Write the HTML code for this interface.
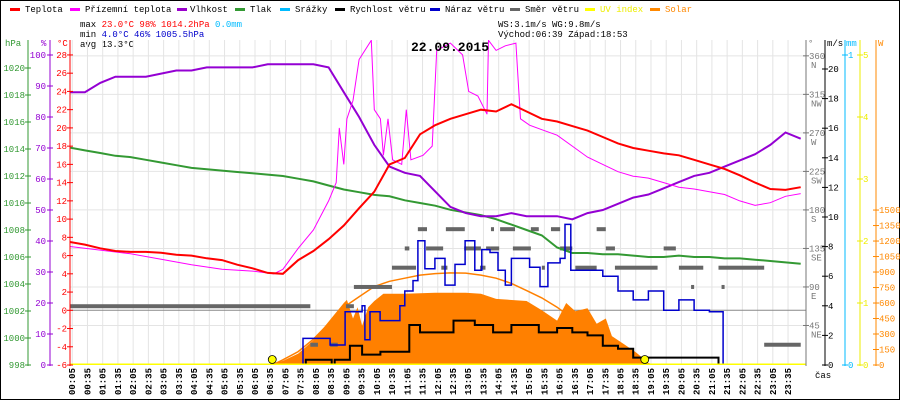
<!DOCTYPE html>
<html><head><meta charset="utf-8"><style>
html,body{margin:0;padding:0;background:#fff}
svg{display:block;font-family:"Liberation Mono",monospace}
</style></head><body>
<svg id="c" width="900" height="400" viewBox="0 0 900 400" xmlns="http://www.w3.org/2000/svg">
<rect x="0.5" y="0.5" width="899" height="399" fill="#fff" stroke="#000"/>
<g font-size="9">
 <g><rect x="10" y="8" width="10" height="3" fill="#f00"/><text x="25" y="12">Teplota</text></g>
 <g><rect x="70" y="8" width="10" height="3" fill="#f0f"/><text x="85" y="12">Přízemní teplota</text></g>
 <g><rect x="177" y="8" width="10" height="3" fill="#90c"/><text x="190" y="12">Vlhkost</text></g>
 <g><rect x="235" y="8" width="10" height="3" fill="#393"/><text x="250" y="12">Tlak</text></g>
 <g><rect x="280" y="8" width="10" height="3" fill="#0bf"/><text x="295" y="12">Srážky</text></g>
 <g><rect x="335" y="8" width="10" height="3" fill="#000"/><text x="350" y="12">Rychlost větru</text></g>
 <g><rect x="430" y="8" width="10" height="3" fill="#00c"/><text x="445" y="12">Náraz větru</text></g>
 <g><rect x="510" y="8" width="10" height="3" fill="#666"/><text x="525" y="12">Směr větru</text></g>
 <g><rect x="585" y="8" width="10" height="3" fill="#ff0"/><text x="600" y="12" fill="#ee0">UV index</text></g>
 <g><rect x="650" y="8" width="10" height="3" fill="#f80"/><text x="665" y="12" fill="#f80">Solar</text></g>
</g>
<g font-size="9">
 <text x="80" y="27">max <tspan fill="#f00">23.0°C  98%  1014.2hPa</tspan>   <tspan fill="#0bf">0.0mm</tspan></text>
 <text x="80" y="37">min  <tspan fill="#00c">4.0°C  46%  1005.5hPa</tspan></text>
 <text x="80" y="47">avg 13.3°C</text>
 <text x="498" y="27">WS:3.1m/s    WG:9.8m/s</text>
 <text x="498" y="37">Východ:06:39 Západ:18:53</text>
</g>
<g id="grid"></g>
<g id="series"></g>
<text x="450" y="51" font-size="13" font-weight="bold" text-anchor="middle">22.09.2015</text>
<g id="axes"></g>
</svg>
<script>
const hours = [];
for (let i = 0; i <= 48; i++) hours.push(i / 2);
const temp = [7.5,7.2,6.8,6.5,6.4,6.4,6.3,6.1,6.0,5.7,5.5,5.0,4.6,4.1,4.0,5.5,6.5,7.8,9.3,11.2,13.0,16.0,16.7,19.3,20.3,21.0,21.5,22.0,21.8,22.6,21.8,21.0,20.7,20.2,19.7,19.0,18.3,17.8,17.5,17.2,17.0,16.5,16.0,15.5,14.8,14.0,13.3,13.2,13.5];
const hum = [88,88,91,93,93,93,94,95,95,96,96,96,96,97,97,97,97,96,88,80,71,64,62,61,56,51,49,48,48,49,48,48,48,47,49,50,52,54,55,57,59,61,62,64,66,68,71,75,73];
const press = [1014.1,1013.9,1013.7,1013.5,1013.4,1013.2,1013.0,1012.8,1012.6,1012.5,1012.4,1012.3,1012.2,1012.1,1012.0,1011.8,1011.6,1011.3,1011.0,1010.8,1010.6,1010.5,1010.2,1010.0,1009.8,1009.5,1009.3,1009.1,1008.8,1008.4,1008.0,1007.6,1006.7,1006.3,1006.3,1006.2,1006.2,1006.1,1006.0,1006.0,1006.1,1006.0,1006.0,1005.9,1005.9,1005.8,1005.7,1005.6,1005.5];
const feelsT = [0,1,2,3,4,5,6,6.7,7.0,7.5,8.0,8.5,8.75,8.85,9.0,9.1,9.3,9.5,9.9,10.0,10.2,10.3,10.45,10.6,10.9,11.05,11.2,11.6,11.9,12.05,12.5,12.9,13.1,13.4,13.7,13.75,14.0,14.3,14.65,14.8,15.1,15.5,16,16.5,17,17.5,18,18.5,19,19.5,20,20.5,21,21.5,22,22.5,23,23.5,24];
const feelsV = [7.0,6.6,6.2,5.6,5.0,4.5,4.3,4.0,4.5,6.8,8.8,12,14,20,16,21,23,27.5,29.6,22,21,17,21,16.5,16,22,16.5,17,18,28.5,29.3,28,24,23.5,21.5,29.6,28.5,29,29.3,21,20.3,19.8,19.2,18,16.8,16,15.2,14.7,14.5,14.0,13.5,13.3,13.0,12.7,12.0,11.5,11.8,12.5,12.8];
const speedT = [0,7.75,8.6,8.7,9.2,9.6,10.2,11.0,11.15,11.5,12.4,12.6,13.3,13.9,14.5,15.4,16.0,16.5,17.0,17.5,18.0,18.5,21.3,24];
const speedV = [0,0.35,0,0.35,1.3,0.7,0.9,0.9,2.7,2.2,2.2,3.0,2.7,2.2,2.7,2.2,2.5,2.2,2.0,1.3,1.1,0.5,0,0];
const gustT = [0,7.66,8.55,9.04,9.6,9.69,9.86,10.19,10.84,11.0,11.27,11.43,11.66,11.99,12.32,12.65,12.98,13.3,13.53,13.8,14.06,14.3,14.5,15.1,15.44,15.7,16.1,16.26,16.45,17.0,17.5,18.0,18.5,19.0,19.5,20.0,20.5,21.0,21.45,24];
const gustV = [0,1.8,1.35,3.6,4.0,1.7,3.6,3.0,4.0,5.0,5.7,8.4,6.5,7.2,5.4,6.8,8.4,6.4,7.8,7.6,6.4,5.4,7.2,6.6,5.3,6.9,7.2,9.5,6.4,6.4,6.0,5.0,4.4,5.0,3.7,4.4,3.7,3.6,0,0];
const dirStart = [0.0,7.9,8.55,9.07,9.33,10.58,11.0,11.43,11.7,12.35,12.2,12.95,13.47,13.67,13.83,13.83,14.13,14.55,15.14,15.5,15.8,16.1,16.6,17.3,17.6,17.9,19.5,20.0,20.4,21.3,21.4,22.8];
const dirEnd = [7.9,8.15,8.8,9.33,10.58,11.37,11.15,11.73,12.26,12.97,12.4,13.5,13.65,13.83,14.1,13.93,14.62,15.14,15.4,15.6,16.1,16.5,17.3,17.6,17.9,19.3,19.9,20.8,20.5,22.8,21.5,24];
const dirDeg = [67.5,22.5,22.5,67.5,90,112.5,135,157.5,135,157.5,112.5,135,112.5,135,135,157.5,157.5,135,157.5,112.5,157.5,135,112.5,157.5,135,112.5,135,112.5,90,112.5,90,22.5];
const solarT = [6.5,7.0,7.5,8.0,8.5,9.0,9.1,9.3,9.45,9.6,9.8,10.0,10.3,11,12,13,13.5,14.0,15.0,15.5,16.0,16.3,16.6,17.0,17.3,17.6,17.8,18.2,18.6,19.0,19.2];
const solarV = [0,40,110,240,420,600,630,450,560,380,560,620,690,690,700,700,690,640,620,530,430,600,520,550,400,450,280,200,120,20,0];
const clearT = [6.65,7.0,7.5,8.0,8.5,9.0,9.5,10.0,10.5,11.0,11.5,12,12.5,13,13.5,14,14.5,15,15.5,16,16.5,17,17.5,18,18.5,18.88];
const clearV = [0,50,130,250,400,560,660,760,810,840,870,885,892,890,870,840,790,720,650,560,450,340,230,130,50,0];
const sunEvents = [6.65, 18.88];
const timeLabels = [];
for (let h = 0; h < 24; h++) { const s = String(h).padStart(2,'0'); timeLabels.push(s+':05', s+':35'); }
const hpaTicks = [998,1000,1002,1004,1006,1008,1010,1012,1014,1016,1018,1020];
const pctTicks = [0,10,20,30,40,50,60,70,80,90,100];
const tempTicks = [-6,-4,-2,0,2,4,6,8,10,12,14,16,18,20,22,24,26,28];
const dirTicks = [45,90,135,180,225,270,315,360];
const dirNames = ['NE','E','SE','S','SW','W','NW','N'];
const msTicks = [0,2,4,6,8,10,12,14,16,18,20];
const uvTicks = [0,1,2,3,4,5];
const wTicks = [0,150,300,450,600,750,900,1050,1200,1350,1500];

const NS='http://www.w3.org/2000/svg';
const X = h => 69.7 + h*30.46;
const yT = c => 310.3 - c*9.12;
const yP = p => 365 - (p-998)*13.5;
const yH = v => 365 - v*3.1;
const yW = v => 365 - v*14.8;
const yD = d => 364 - d*0.856;
const yS = w => 365 - w*0.1033;
const yUV = v => 365 - v*62;
const yMM = v => 365 - v*310;
function mk(tag, attrs, parent){ const e=document.createElementNS(NS,tag); for(const k in attrs) e.setAttribute(k,attrs[k]); parent.appendChild(e); return e; }
const grid=document.getElementById('grid'), ser=document.getElementById('series'), ax=document.getElementById('axes');
// clip
const defs=mk('defs',{},document.getElementById('c'));
const cp=mk('clipPath',{id:'pc'},defs); mk('rect',{x:70,y:40,width:736,height:325},cp);
ser.setAttribute('clip-path','url(#pc)');
// grid
timeLabels.forEach((t,i)=>{ const x=X(i*0.5+5/60);
 const l=mk('line',{x1:x,x2:x,y1:40,y2:365,stroke:'#e4e4e4'},grid);
  
 const tx=mk('text',{x:0,y:0,'font-size':9,'font-weight':'bold','text-anchor':'end',transform:`translate(${x+3},368) rotate(-90)`},ax);
 tx.textContent=t;  
});
dirTicks.forEach(d=>{ const l=mk('line',{x1:70,x2:806,y1:yD(d),y2:yD(d),stroke:'#e4e4e4'},grid);
   });
const zl=mk('line',{x1:70,x2:806,y1:yT(0),y2:yT(0),stroke:'#888'},grid);
 
function pts(xs,ys,fy){ return xs.map((h,i)=>X(h).toFixed(1)+','+fy(ys[i]).toFixed(1)).join(' '); }
function stepPts(xs,ys,fy){ let p=[]; xs.forEach((h,i)=>{ if(i>0) p.push(X(h).toFixed(1)+','+fy(ys[i-1]).toFixed(1)); p.push(X(h).toFixed(1)+','+fy(ys[i]).toFixed(1)); }); return p.join(' '); }
// solar fill
let sp=pts(solarT,solarV,yS); sp=X(solarT[0])+',365 '+sp+' '+X(solarT[solarT.length-1])+',365';
const sf=mk('polygon',{points:sp,fill:'#ff8000'},ser);
 
const cl=mk('polyline',{points:pts(clearT,clearV,yS),fill:'none',stroke:'#ff8000','stroke-width':1.5},ser);
 
// direction
dirDeg.forEach((d,i)=>{ const h0=dirStart[i], h1=dirEnd[i];
 const r=mk('rect',{x:X(h0),y:yD(d)-2,width:Math.max(3,X(h1)-X(h0)),height:4,fill:'#666'},ser);
   });
const pr=mk('polyline',{points:pts(hours,press,yP),fill:'none',stroke:'#339933','stroke-width':2},ser);
 
const hu=mk('polyline',{points:pts(hours,hum,yH),fill:'none',stroke:'#9400d3','stroke-width':2},ser);
 
const fl=mk('polyline',{points:pts(feelsT,feelsV,yT),fill:'none',stroke:'#ff00ff','stroke-width':1},ser);
 
const tl=mk('polyline',{points:pts(hours,temp,yT),fill:'none',stroke:'#ff0000','stroke-width':2},ser);
 
const gl=mk('polyline',{points:stepPts(gustT,gustV,yW),fill:'none',stroke:'#0000cc','stroke-width':1.5},ser);
 
const wl=mk('polyline',{points:stepPts(speedT,speedV,yW),fill:'none',stroke:'#000','stroke-width':2},ser);
 
const uv=mk('line',{x1:70,x2:806,y1:364.5,y2:364.5,stroke:'#ff0','stroke-width':2},ser);
 
sunEvents.forEach(h=>{ const c=mk('circle',{cx:X(h),cy:359.5,r:4,fill:'#ff0',stroke:'#000','stroke-width':0.8},ser);
   });
// axes
function axis(name,x,color,ticks,fy,side,fmt,lx){
 const g=mk('g',{fill:color,'font-size':9},ax);
  
 mk('line',{x1:x,x2:x,y1:40,y2:366,stroke:color},g);
 ticks.forEach((t,i)=>{ const y=fy(t);
  mk('line',{x1:x-3,x2:x+3,y1:y,y2:y,stroke:color},g);
  const tx=mk('text',{x:lx,y:y+3,'text-anchor':side},g); tx.textContent=fmt?fmt(t,i):t;
    });
 return g;
}
axis('hpa-axis',28,'#339933',hpaTicks,yP,'end',null,25);
axis('humidity-axis',50,'#9400d3',pctTicks,yH,'end',null,46);
axis('temperature-axis',70,'#ff0000',tempTicks,yT,'end',null,67);
const dg=axis('direction-axis',806,'#777',dirTicks,yD,'start',null,809);
dirTicks.forEach((d,i)=>{ const t=mk('text',{x:811,y:yD(d)+12,fill:'#777','font-size':9},dg); t.textContent=dirNames[i];
   });
axis('wind-speed-axis',825,'#000',msTicks,yW,'start',null,828);
axis('precip-axis',845,'#0bf',[0,1],yMM,'start',null,848);
axis('uv-axis',860,'#ee0',uvTicks,yUV,'start',null,863);
axis('solar-axis',876,'#f80',wTicks,yS,'start',null,879);
[['hPa',5,'#339933'],['%',41,'#9400d3'],['°C',57,'#f00'],['°',808,'#777'],['m/s',827,'#000'],['mm',846,'#0bf'],['W',878,'#f80'],['čas',815,'#000']].forEach(a=>{
 const t=mk('text',{x:a[1],y:a[0]==='čas'?378:46,fill:a[2],'font-size':9},ax); t.textContent=a[0];
   });
</script>
</body></html>
